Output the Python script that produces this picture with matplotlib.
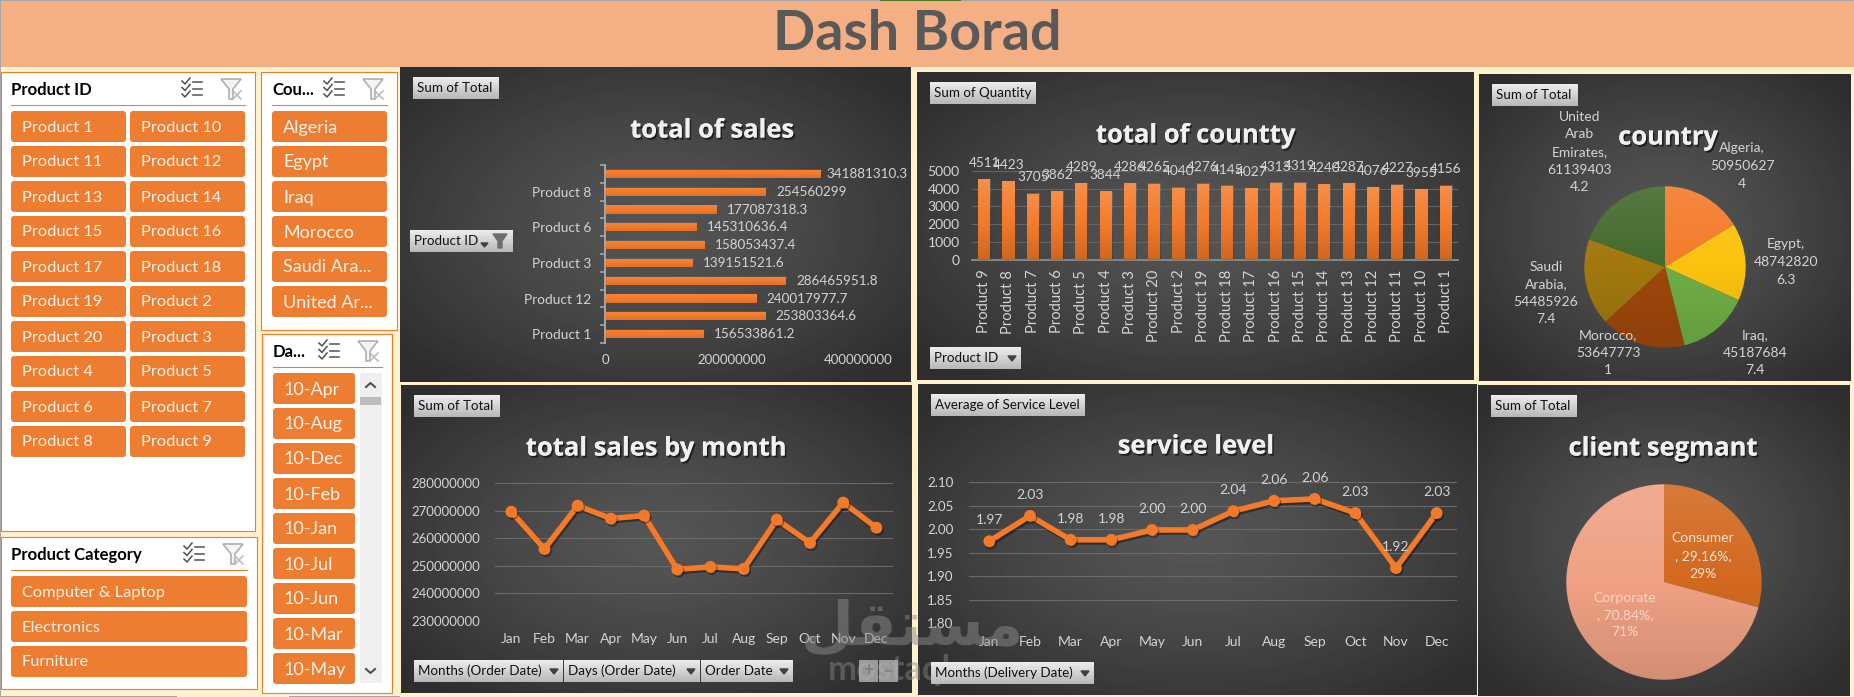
import numpy as np
import matplotlib
matplotlib.use('Agg')
import matplotlib.pyplot as plt
import matplotlib.patheffects as pe
from matplotlib.patches import FancyBboxPatch, Rectangle, Polygon, Circle
from matplotlib.lines import Line2D

plt.rcParams['font.family'] = ['Lato', 'DejaVu Sans']

W, H = 1854, 697

# slicers
product_ids = ['Product 1', 'Product 10', 'Product 11', 'Product 12', 'Product 13', 'Product 14',
               'Product 15', 'Product 16', 'Product 17', 'Product 18', 'Product 19', 'Product 2',
               'Product 20', 'Product 3', 'Product 4', 'Product 5', 'Product 6', 'Product 7',
               'Product 8', 'Product 9']
slicer_countries = ['Algeria', 'Egypt', 'Iraq', 'Morocco', 'Saudi Ara...', 'United Ar...']
slicer_dates = ['10-Apr', '10-Aug', '10-Dec', '10-Feb', '10-Jan', '10-Jul', '10-Jun', '10-Mar', '10-May']
slicer_categories = ['Computer & Laptop', 'Electronics', 'Furniture']

# total of sales
sales_products = ['Product 1', '', 'Product 12', '', 'Product 3', '', 'Product 6', '', 'Product 8', '']
sales_totals = [156533861.2, 253803364.6, 240017977.7, 286465951.8, 139151521.6,
                158053437.4, 145310636.4, 177087318.3, 254560299, 341881310.3]

# total of countty
qty_products = ['Product 9', 'Product 8', 'Product 7', 'Product 6', 'Product 5', 'Product 4', 'Product 3',
                'Product 20', 'Product 2', 'Product 19', 'Product 18', 'Product 17', 'Product 16',
                'Product 15', 'Product 14', 'Product 13', 'Product 12', 'Product 11', 'Product 10', 'Product 1']
qty_values = [4511, 4423, 3705, 3862, 4289, 3844, 4286, 4265, 4040, 4276,
              4145, 4027, 4313, 4319, 4240, 4287, 4076, 4227, 3955, 4156]

# country pie
countries = ['Algeria', 'Egypt', 'Iraq', 'Morocco', 'Saudi Arabia', 'United Arab Emirates']
country_totals = [509506274, 487428206.3, 451876847.4, 536477731, 544859267.4, 611394034.2]
country_colors = ['#F47B2B', '#FBC30E', '#6FAE45', '#9F470B', '#A0780E', '#446A2C']
country_labels = ['Algeria,', 'Egypt,', 'Iraq,', 'Morocco,', 'Saudi\nArabia,', 'United\nArab\nEmirates,']

# monthly lines
months = ['Jan', 'Feb', 'Mar', 'Apr', 'May', 'Jun', 'Jul', 'Aug', 'Sep', 'Oct', 'Nov', 'Dec']
month_sales = [269600000, 256100000, 271800000, 267100000, 268200000, 248700000,
               249600000, 248900000, 266700000, 258300000, 272900000, 263800000]
service_level = [1.974, 2.028, 1.977, 1.977, 1.998, 1.998, 2.038, 2.060, 2.064, 2.034, 1.917, 2.034]

# client segments
segments = ['Consumer', 'Corporate']
segment_share = [29.16, 70.84]
segment_colors = ['#D2691F', '#F0A183']

ORANGE = '#ED7D31'
BAR = '#F47A2A'
CREAM = '#FFF2CC'
TXT = '#D4D4D4'

fig = plt.figure(figsize=(W / 100, H / 100), dpi=100, facecolor=CREAM)


def px_axes(x0, y0, x1, y1, z=1):
    ax = fig.add_axes([x0 / W, 1 - y1 / H, (x1 - x0) / W, (y1 - y0) / H], zorder=z)
    ax.patch.set_alpha(0)
    return ax


back = px_axes(0, 0, W, H, 0)
over = px_axes(0, 0, W, H, 5)
for a in (back, over):
    a.axis('off')


def panel(x0, y0, x1, y1):
    yy, xx = np.mgrid[-1:1:90j, -1:1:90j]
    r = np.clip(np.hypot(xx, yy) / 1.3, 0, 1)
    back.imshow(0.335 - 0.155 * r ** 1.3, cmap='gray', vmin=0, vmax=1, extent=(x0, x1, y1, y0),
                aspect='auto', interpolation='bicubic', zorder=1)


def shade(ax, patch, strength=0.14):
    # light-to-dark sheen laid over a bar or a pie
    t = np.linspace(0, 1, 64)[:, None]
    rgba = np.zeros((64, 1, 4))
    rgba[..., :3] = np.where(t < 0.5, 1.0, 0.0)[..., None]
    rgba[..., 3] = np.abs(t - 0.5) * 2 * strength
    x0, y0, x1, y1 = patch
    return ax.imshow(rgba, extent=(x0, x1, y0, y1), aspect='auto', zorder=3, origin='upper')


def title(text, x, y):
    t = over.text(x, y + 1, text, color='#F0F0F0', fontsize=18.4, fontweight='bold', family='Open Sans',
                  ha='center', va='center')
    t.set_path_effects([pe.withSimplePatchShadow(offset=(1.2, -1.5), shadow_rgbFace='black', alpha=0.55),
                        pe.Normal()])


def pivot(x0, y0, x1, y1, text, arrow=False, funnel=False):
    g = np.linspace(0.93, 0.72, 32)[:, None]
    over.imshow(g, cmap='gray', vmin=0, vmax=1, extent=(x0, x1, y1, y0), aspect='auto', zorder=2)
    over.text(x0 + 4, (y0 + y1) / 2, text, color='#101010', fontsize=9.6, ha='left', va='center', zorder=3)
    if arrow:
        cx = x1 - 9
        cy = (y0 + y1) / 2
        over.add_patch(Polygon([(cx - 4, cy - 2), (cx + 4, cy - 2), (cx, cy + 3)], color='#404040', zorder=3))
    if funnel:
        cx = x1 - 13
        cy = (y0 + y1) / 2
        over.add_patch(Polygon([(cx - 7, cy - 7), (cx + 7, cy - 7), (cx + 2, cy), (cx + 2, cy + 7),
                                (cx - 2, cy + 7), (cx - 2, cy)], color='#6E6E6E', zorder=3))
        over.add_patch(Polygon([(cx - 19, cy + 2), (cx - 12, cy + 2), (cx - 15.5, cy + 6)],
                               color='#404040', zorder=3))


def multi_icon(x, y):
    for i in range(3):
        yy = y + 3 + i * 6.5
        back.add_line(Line2D([x, x + 3, x + 8], [yy - 1, yy + 2, yy - 4], color='#505050', lw=1.1, zorder=6))
        back.add_line(Line2D([x + 11, x + 20], [yy, yy], color='#606060', lw=1.2, zorder=6))


def filter_icon(x, y):
    back.add_patch(Polygon([(x, y), (x + 20, y), (x + 12, y + 10), (x + 12, y + 20), (x + 8, y + 20), (x + 8, y + 10)],
                           fc='#F4F4F4', ec='#B0B0B0', lw=1.2, zorder=6))
    back.add_line(Line2D([x + 12, x + 20], [y + 12, y + 20], color='#BDBDBD', lw=1.2, zorder=7))
    back.add_line(Line2D([x + 20, x + 12], [y + 12, y + 20], color='#BDBDBD', lw=1.2, zorder=7))


def slicer_box(x0, y0, x1, y1, name, line_x0, line_x1, line_y, name_x, icon_y, multi_x, filter_x):
    back.add_patch(Rectangle((x0, y0), x1 - x0, y1 - y0, fc='white', ec=ORANGE, lw=0.8, zorder=2))
    back.text(name_x, icon_y + 11, name, color='black', fontsize=12, fontweight='bold', va='center', zorder=6)
    back.add_line(Line2D([line_x0, line_x1], [line_y, line_y], color=ORANGE, lw=0.8, zorder=6))
    multi_icon(multi_x, icon_y)
    filter_icon(filter_x, icon_y)


def item(x0, y0, x1, y1, text, size=11.8):
    back.add_patch(FancyBboxPatch((x0, y0), x1 - x0, y1 - y0, boxstyle='round,pad=0,rounding_size=3',
                                  fc=ORANGE, ec='none', zorder=4))
    back.text(x0 + 11, (y0 + y1) / 2 + 1, text, color='#FDF0E6', fontsize=size, va='center', ha='left', zorder=5)


# page frame and header
back.add_patch(Rectangle((0, 0), W, 67, fc='#F4B084', ec='none', zorder=1))
back.add_patch(Rectangle((0, 0), W, 1.2, fc='#A6A6A6', ec='none', zorder=2))
back.add_patch(Rectangle((880, 0), 81, 1.2, fc='#4E7A1F', ec='none', zorder=3))
back.add_patch(Rectangle((0, 0), 1.2, H, fc='#A6A6A6', ec='none', zorder=2))
back.add_patch(Rectangle((0, 695.8), 177, 1.2, fc='#A6A6A6', ec='none', zorder=2))
back.add_patch(Rectangle((289, 695.8), 111, 1.2, fc='#A6A6A6', ec='none', zorder=2))
back.text(917, 34, 'Dash Borad', color='#595959', fontsize=40, fontweight='bold', family='Lato',
          ha='center', va='center', zorder=3)

# slicers
slicer_box(1, 72, 255, 531, 'Product ID', 11, 245, 105, 11, 79, 182, 221)
for i, name in enumerate(product_ids):
    col, row = i % 2, i // 2
    x0 = 11 + col * 119
    y0 = 111 + row * 35
    item(x0, y0, x0 + 115, y0 + 31, name)

slicer_box(261, 72, 397, 330, 'Cou...', 272, 387, 105, 272, 79, 324, 363)
for i, name in enumerate(slicer_countries):
    item(272, 111 + i * 35, 387, 142 + i * 35, name, 13)

slicer_box(262, 334, 392, 693, 'Da...', 273, 382, 367, 273, 341, 319, 358)
for i, name in enumerate(slicer_dates):
    item(273, 373 + i * 35, 355, 404 + i * 35, name, 13)
back.add_patch(Rectangle((360, 373), 22, 310, fc='#EFEFEF', ec='none', zorder=4))
back.add_patch(Rectangle((360, 397), 21, 8, fc='#BDBDBD', ec='none', zorder=5))
back.add_line(Line2D([366, 370.5, 375], [387, 383, 387], color='#505050', lw=1.5, zorder=6))
back.add_line(Line2D([366, 370.5, 375], [669, 673, 669], color='#505050', lw=1.5, zorder=6))

slicer_box(1, 537, 257, 689, 'Product Category', 11, 247, 570, 11, 544, 184, 223)
for i, name in enumerate(slicer_categories):
    item(11, 576 + i * 35, 247, 607 + i * 35, name)

# chart backgrounds
panel(400, 67, 911, 382)
panel(917, 72, 1474, 380)
panel(1479, 74, 1851, 381)
panel(401, 385, 912, 693)
panel(918, 384, 1477, 695)
panel(1478, 385, 1850, 696)


def plain(ax):
    for s in ax.spines.values():
        s.set_visible(False)


# total of sales
ax = px_axes(605, 165, 858, 343)
plain(ax)
ypos = np.arange(len(sales_totals))
bars = ax.barh(ypos, sales_totals, height=0.46, color=BAR, zorder=2)
for b, v in zip(bars, sales_totals):
    pad = 3.6 if v == max(sales_totals) else 7.2
    ax.annotate(f'{v:.10g}', (v, b.get_y() + b.get_height() / 2), xytext=(pad, 0), textcoords='offset points',
                color=TXT, fontsize=9.7, va='center', ha='left')
    shade(ax, (0, b.get_y(), v, b.get_y() + b.get_height()), 0.08)
ax.set_xlim(0, 400000000)
ax.set_ylim(-0.5, 9.5)
ax.spines['left'].set_visible(True)
ax.spines['left'].set_color('#A6A6A6')
ax.spines['left'].set_linewidth(1.4)
ax.set_yticks(ypos, sales_products)
ax.set_yticks(np.arange(-0.5, 10, 1), minor=True)
ax.tick_params(axis='y', which='major', length=0, pad=10, labelcolor=TXT, labelsize=9.8)
ax.tick_params(axis='y', which='minor', length=3.5, width=1.2, color='#A6A6A6')
ax.set_xticks([0, 200000000, 400000000], ['0', '200000000', '400000000'])
ax.tick_params(axis='x', length=0, pad=8, labelcolor=TXT, labelsize=9.5)

# total of countty
ax = px_axes(972, 170.7, 1458, 260)
plain(ax)
xpos = np.arange(len(qty_values))
ax.yaxis.grid(True, color='#646464', lw=0.8, zorder=0)
bars = ax.bar(xpos, qty_values, width=0.5, color=BAR, zorder=2)
for b, v in zip(bars, qty_values):
    ax.annotate(str(v), (b.get_x() + b.get_width() / 2, v), xytext=(0, 11.8), textcoords='offset points',
                color=TXT, fontsize=9.8, ha='center', va='center')
    shade(ax, (b.get_x(), 0, b.get_x() + b.get_width(), v), 0.16)
ax.set_xlim(-0.5, 19.5)
ax.set_ylim(0, 5000)
ax.spines['bottom'].set_visible(True)
ax.spines['bottom'].set_color('#8C8C8C')
ax.spines['bottom'].set_linewidth(1.3)
ax.set_axisbelow(True)
ax.set_xticks(xpos, qty_products, rotation=90)
ax.set_yticks(range(0, 5001, 1000))
ax.tick_params(axis='x', length=0, pad=7, labelcolor=TXT, labelsize=10.6)
ax.tick_params(axis='y', length=0, pad=9, labelcolor=TXT, labelsize=10)

# country pie
ax = px_axes(1665 - 80.7, 267 - 80.7, 1665 + 80.7, 267 + 80.7)
ax.pie(country_totals, colors=country_colors, startangle=90, counterclock=False, radius=1,
       wedgeprops={'linewidth': 0, 'zorder': 2})
ax.set_xlim(-1, 1)
ax.set_ylim(-1, 1)
im = shade(ax, (-1, -1, 1, 1), 0.10)
im.set_clip_path(Circle((0, 0), 1, transform=ax.transData))

country_label_xy = [(1742, 165), (1786, 261), (1755, 352), (1608, 352), (1546, 292), (1580, 151)]
for name, v, (lx, ly) in zip(country_labels, country_totals, country_label_xy):
    s = f'{v:.10g}'
    over.text(lx, ly + 1, f'{name}\n{s[:8]}\n{s[8:]}', color=TXT, fontsize=10, ha='center', va='center',
              linespacing=1.55, zorder=2)

# total sales by month
ax = px_axes(494.7, 483, 893, 621)
plain(ax)
mx = np.arange(len(months))
ax.yaxis.grid(True, color='#6A6A6A', lw=0.8)
ax.set_axisbelow(True)
ax.plot(mx, month_sales, color=BAR, lw=4, marker='o', ms=7.5, solid_joinstyle='miter', clip_on=False,
        path_effects=[pe.SimpleLineShadow(offset=(1, -1.5), alpha=0.4, shadow_color='black'), pe.Normal()])
ax.set_xlim(-0.5, 11.5)
ax.set_ylim(230000000, 280000000)
ax.set_xticks(mx, months)
ax.set_yticks(range(230000000, 280000001, 10000000))
ax.ticklabel_format(axis='y', style='plain', useOffset=False)
ax.tick_params(axis='x', length=0, pad=8.5, labelcolor=TXT, labelsize=10)
ax.tick_params(axis='y', length=0, pad=10.5, labelcolor=TXT, labelsize=9.5)

# service level
ax = px_axes(969, 482, 1457, 623)
plain(ax)
ax.yaxis.grid(True, color='#6A6A6A', lw=0.8)
ax.set_axisbelow(True)
ax.plot(mx, service_level, color=BAR, lw=4, marker='o', ms=7.5, clip_on=False,
        path_effects=[pe.SimpleLineShadow(offset=(1, -1.5), alpha=0.4, shadow_color='black'), pe.Normal()])
for m, v in zip(mx, service_level):
    ax.annotate(f'{v:.2f}', (m, v), xytext=(0, 15), textcoords='offset points', color=TXT, fontsize=10,
                ha='center', va='center')
ax.set_xlim(-0.5, 11.5)
ax.set_ylim(1.80, 2.10)
ax.set_xticks(mx, months)
ax.set_yticks(np.arange(1.80, 2.101, 0.05))
ax.yaxis.set_major_formatter('{x:.2f}')
ax.tick_params(axis='x', length=0, pad=9.5, labelcolor=TXT, labelsize=10)
ax.tick_params(axis='y', length=0, pad=11, labelcolor=TXT, labelsize=9.6)

# client segmant
ax = px_axes(1664 - 97.7, 582 - 97.7, 1664 + 97.7, 582 + 97.7)
ax.pie(segment_share, colors=segment_colors, startangle=90, counterclock=False, radius=1,
       wedgeprops={'linewidth': 0, 'zorder': 2})
ax.set_xlim(-1, 1)
ax.set_ylim(-1, 1)
im = shade(ax, (-1, -1, 1, 1), 0.12)
im.set_clip_path(Circle((0, 0), 1, transform=ax.transData))

segment_label_xy = [(1703, 553), (1625, 612)]
segment_text = ['#F3E3D3', '#F8D5C8']
for name, v, (lx, ly), c in zip(segments, segment_share, segment_label_xy, segment_text):
    over.text(lx, ly + 3, f'{name}\n, {v:.2f}%,\n{v:.0f}%', color=c, fontsize=10, ha='center', va='center',
              linespacing=1.55, zorder=2)

# chart titles
title('total of sales', 712, 129)
title('total of countty', 1195.5, 134)
title('country', 1668, 136)
title('total sales by month', 656, 447)
title('service level', 1196, 445)
title('client segmant', 1663, 447)

# pivot field buttons
pivot(413, 77, 499, 99, 'Sum of Total')
pivot(410, 230, 513, 252, 'Product ID', funnel=True)
pivot(930, 82, 1036, 104, 'Sum of Quantity')
pivot(930, 347, 1021, 369, 'Product ID', arrow=True)
pivot(1492, 84, 1578, 106, 'Sum of Total')
pivot(414, 395, 500, 417, 'Sum of Total')
pivot(414, 660, 563, 682, 'Months (Order Date)', arrow=True)
pivot(564, 660, 700, 682, 'Days (Order Date)', arrow=True)
pivot(701, 660, 793, 682, 'Order Date', arrow=True)
pivot(931, 394, 1085, 416, 'Average of Service Level')
pivot(931, 662, 1094, 684, 'Months (Delivery Date)', arrow=True)
pivot(1491, 395, 1577, 417, 'Sum of Total')

# watermark stays under the field buttons
over.text(912, 628, '\ufede\ufed8\ufe98\ufeb4\ufee3', family='DejaVu Sans', fontweight='bold', fontsize=44,
          color='#8A8A8A', alpha=0.5, ha='center', va='center', zorder=1)
over.text(926, 670, 'mostaql.com', family='Lato', fontweight='bold', fontsize=25, color='#8A8A8A', alpha=0.45,
          ha='center', va='center', zorder=1)

for x0, sign in ((859, '+'), (879, '\u2212')):
    over.add_patch(Rectangle((x0, 660), 19, 22, fc='#BDBDBD', ec='none', alpha=0.75, zorder=4))
    over.text(x0 + 9.5, 670.5, sign, color='#808080', fontsize=13, fontweight='bold', ha='center', va='center', zorder=5)

for a in (back, over):
    a.set_xlim(0, W)
    a.set_ylim(H, 0)

fig.savefig('out.png', dpi=100, facecolor=CREAM)
